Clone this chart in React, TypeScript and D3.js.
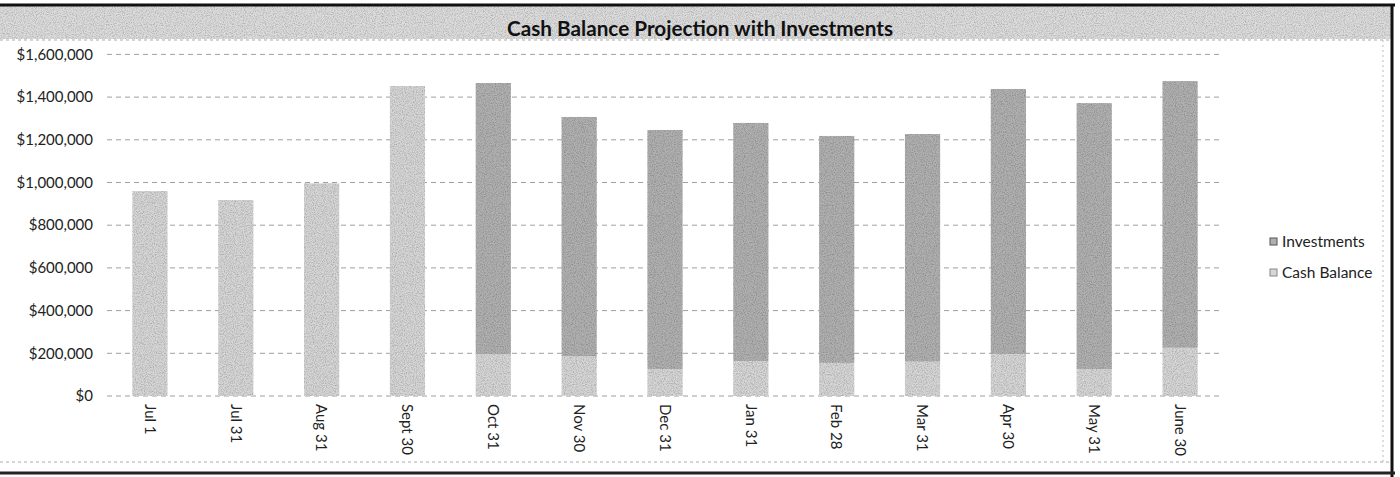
import React from "react";
import * as d3 from "d3";

const categories = ["Jul 1", "Jul 31", "Aug 31", "Sept 30", "Oct 31", "Nov 30", "Dec 31", "Jan 31", "Feb 28", "Mar 31", "Apr 30", "May 31", "June 30"];
const cashBalance = [960000, 918000, 996000, 1452000, 195000, 187000, 126000, 164000, 155000, 161000, 197000, 126000, 226000];
const investments = [0, 0, 0, 0, 1271000, 1120000, 1120000, 1115000, 1063000, 1066000, 1241000, 1246000, 1249000];
const yTicks = [0, 200000, 400000, 600000, 800000, 1000000, 1200000, 1400000, 1600000];
const seriesNames = ["Investments", "Cash Balance"];
const title = "Cash Balance Projection with Investments";

const W = 1400, H = 477;
const plot = { left: 107, right: 1223, top: 54.4, bottom: 396 };
const cashColor = "#d6d6d6";
const invColor = "#b0b0b0";

export default function App() {
  const x = d3.scaleBand<string>().domain(categories).range([plot.left, plot.right]).paddingInner(0.59).paddingOuter(0.295);
  const y = d3.scaleLinear().domain([0, 1600000]).range([plot.bottom, plot.top]);
  const fmt = (v: number) => "$" + d3.format(",")(v);
  const rows = categories.map((c, i) => ({ cat: c, cash: cashBalance[i], inv: investments[i] }));
  const stack = d3.stack<any>().keys(["cash", "inv"])(rows);
  const colors: Record<string, string> = { cash: cashColor, inv: invColor };
  const font = "Lato, 'Open Sans', sans-serif";

  return (
    <svg width={W} height={H} style={{ position: "absolute", left: 0, top: 0, background: "#fff" }}>
      <defs>
        <filter id="noise" x="0" y="0" width="100%" height="100%">
          <feTurbulence type="fractalNoise" baseFrequency="0.9" numOctaves="2" seed="3" result="t" />
          <feColorMatrix in="t" type="matrix" values="0 0 0 0 0  0 0 0 0 0  0 0 0 0 0  0 0 0 -0.9 0.55" result="n" />
          <feComposite in="n" in2="SourceGraphic" operator="in" result="nn" />
          <feMerge>
            <feMergeNode in="SourceGraphic" />
            <feMergeNode in="nn" />
          </feMerge>
        </filter>
      </defs>
      {/* title band */}
      <rect x={0} y={6} width={1392} height={33} fill="#dcdcdc" filter="url(#noise)" />
      <line x1={0} x2={1395} y1={5} y2={5} stroke="#111" strokeWidth={3} />
      <line x1={0} x2={1390} y1={40} y2={40} stroke="#aaa" strokeDasharray="3 3" />
      <text x={700} y={36} textAnchor="middle" fontFamily={font} fontWeight={700} fontSize={20} textLength={386} lengthAdjust="spacingAndGlyphs" fill="#111">{title}</text>

      {/* gridlines */}
      {yTicks.map(t => (
        <g key={t}>
          <line x1={plot.left} x2={plot.right} y1={y(t)} y2={y(t)} stroke="#777" strokeWidth={1} strokeDasharray="5 4" opacity={0.7} />
          <text x={93} y={y(t)} dy="0.35em" textAnchor="end" fontFamily={font} fontSize={15} fill="#222">{fmt(t)}</text>
        </g>
      ))}

      {/* bars */}
      {stack.map(s => (
        <g key={s.key} fill={colors[s.key]} filter="url(#noise)">
          {s.map((d, i) => d[1] - d[0] > 0 ? (
            <rect key={i} x={x(categories[i])} width={x.bandwidth()} y={y(d[1])} height={y(d[0]) - y(d[1])} />
          ) : null)}
        </g>
      ))}

      {/* x labels */}
      {categories.map(c => (
        <text key={c} transform={`translate(${(x(c) as number) + x.bandwidth() / 2},${404}) rotate(90)`} dy="0.35em" fontFamily={font} fontSize={15} fill="#222">{c}</text>
      ))}

      {/* legend */}
      {seriesNames.map((n, i) => (
        <g key={n} transform={`translate(1270,${242 + i * 31})`}>
          <rect x={0} y={-4} width={7} height={7} fill={i === 0 ? invColor : cashColor} stroke={i === 0 ? "#555" : "#888"} strokeWidth={1} />
          <text x={12} y={0} dy="0.35em" fontFamily={font} fontSize={15.5} fill="#222">{n}</text>
        </g>
      ))}

      {/* frame */}
      <line x1={1383} x2={1383} y1={40} y2={465} stroke="#bbb" strokeDasharray="2 3" />
      <line x1={1392} x2={1392} y1={4} y2={477} stroke="#111" strokeWidth={3} />
      <line x1={0} x2={1390} y1={462} y2={462} stroke="#aaa" strokeDasharray="3 3" />
      <line x1={0} x2={1395} y1={473} y2={473} stroke="#222" strokeWidth={3} />
    </svg>
  );
}
